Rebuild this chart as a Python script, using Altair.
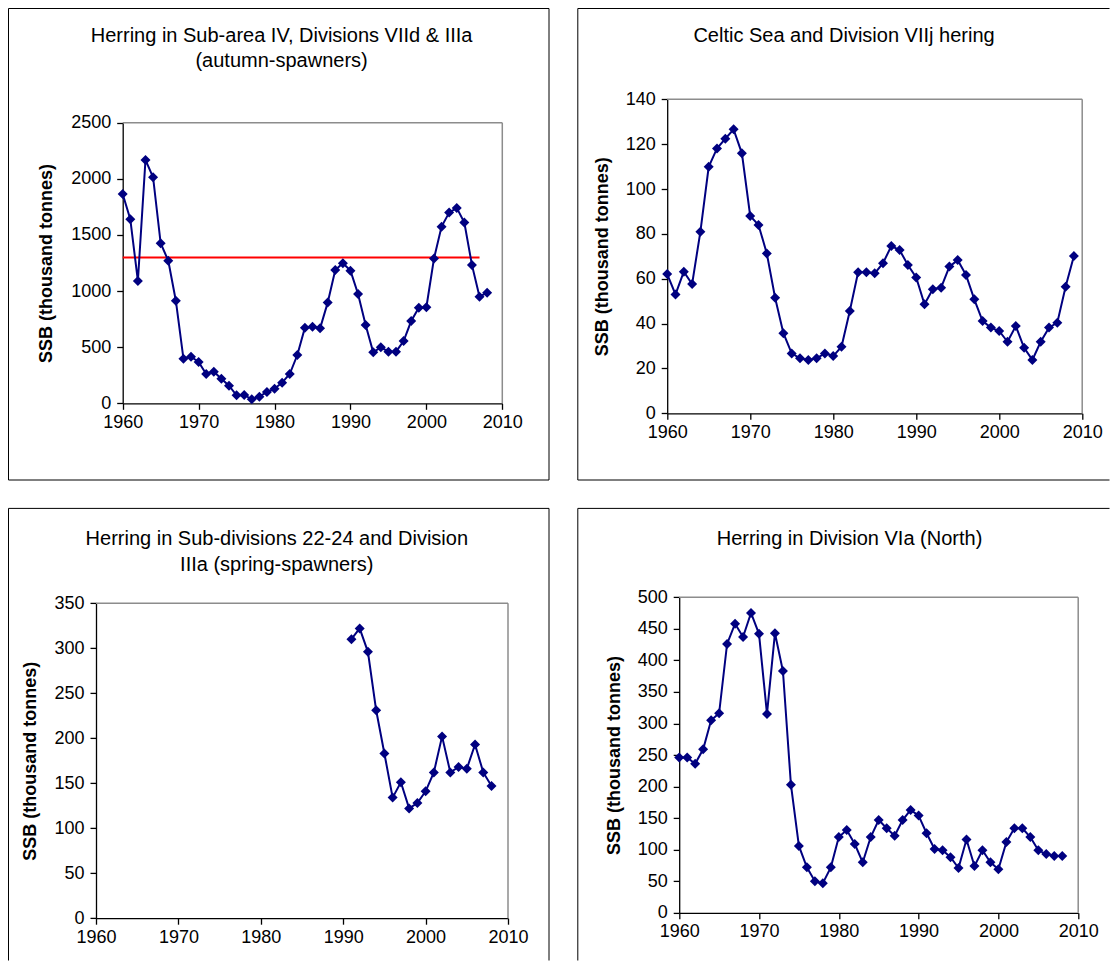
import altair as alt
import pandas as pd

# ---------------- data ----------------
years_ns = list(range(1960, 2009))
ssb_ns = [1865, 1640, 1090, 2168, 2014, 1426, 1271, 914, 398, 415,
          368, 261, 282, 219, 157, 71, 74, 36, 59, 101,
          130, 184, 261, 430, 674, 683, 668, 897, 1188, 1248,
          1182, 974, 698, 454, 499, 460, 460, 555, 733, 852,
          856, 1289, 1574, 1699, 1741, 1610, 1233, 950, 986]
bpa_years = [1960, 2007]
bpa_values = [1300, 1300]

years_cs = list(range(1960, 2010))
ssb_cs = [62.1, 53.0, 63.1, 57.6, 81.0, 109.9, 118.1, 122.4, 126.6, 115.9,
          88.0, 84.0, 71.3, 51.5, 35.7, 26.7, 24.5, 23.8, 24.5, 26.7,
          25.5, 29.7, 45.6, 62.9, 62.9, 62.4, 66.9, 74.6, 72.8, 66.1,
          60.6, 48.6, 55.3, 56.0, 65.4, 68.3, 61.7, 50.8, 41.1, 38.2,
          36.7, 31.9, 38.9, 29.2, 23.8, 31.9, 38.2, 40.4, 56.4, 70.1]

years_ws = list(range(1991, 2009))
ssb_ws = [310, 322, 296, 231, 183, 134, 151, 122, 128, 141,
          162, 202, 162, 168, 166, 193, 162, 147]

years_via = list(range(1960, 2009))
ssb_via = [246, 246, 236, 259, 305, 316, 426, 458, 437, 475,
           442, 315, 443, 383, 203, 106, 72, 50, 47, 72,
           120, 131, 109, 80, 120, 147, 134, 122, 147, 163,
           154, 126, 101, 99, 88, 71, 116, 74, 99, 80,
           69, 112, 134, 134, 120, 99, 93, 90, 90]

x_ticks = [1960, 1970, 1980, 1990, 2000, 2010]
y_title = "SSB (thousand tonnes)"

NAVY = "#000080"
FONT = "Liberation Sans"
ONE = pd.DataFrame({"k": [0]})


def rule(x1, y1, x2, y2):
    return alt.Chart(ONE).mark_rule(color="#000000", strokeWidth=1).encode(
        x=alt.value(x1), y=alt.value(y1), x2=alt.value(x2), y2=alt.value(y2))


def text(s, x, y):
    return alt.Chart(ONE).mark_text(
        text=s, font=FONT, fontSize=20, color="#000000", align="center", baseline="middle"
    ).encode(x=alt.value(x), y=alt.value(y))


def panel(years, vals, ymax, ystep, w, h, xr, yr, frame_rules, titles, tpad, ref=None):
    # xr: (left, right) pixel range of plot area inside the panel; yr: (top, bottom)
    x = alt.X("Year:Q",
              scale=alt.Scale(domain=[1960, 2010], nice=False, zero=False, range=[xr[0], xr[1]]),
              axis=alt.Axis(values=x_ticks, format="d", title=None, labelFlush=False,
                            labelOverlap=False, labelPadding=4, offset=-(h - yr[1])))
    y = alt.Y("SSB:Q",
              scale=alt.Scale(domain=[0, ymax], nice=False, zero=True, range=[yr[1], yr[0]]),
              axis=alt.Axis(values=list(range(0, ymax + 1, ystep)), format="d", title=y_title,
                            titlePadding=tpad, labelPadding=6, offset=-xr[0]))
    layers = list(frame_rules) + list(titles)
    top_df = pd.DataFrame({"Year": [1960, 2010], "SSB": [ymax, ymax]})
    right_df = pd.DataFrame({"Year": [2010, 2010], "SSB": [0, ymax]})
    layers.append(alt.Chart(top_df).mark_line(color="#8c8c8c", strokeWidth=1.5).encode(x=x, y=y))
    layers.append(alt.Chart(right_df).mark_line(color="#8c8c8c", strokeWidth=1.5).encode(x=x, y=y))
    if ref is not None:
        rdf = pd.DataFrame({"Year": ref[0], "SSB": ref[1]})
        layers.append(alt.Chart(rdf).mark_line(color="#FF0000", strokeWidth=2).encode(x=x, y=y))
    df = pd.DataFrame({"Year": years, "SSB": vals})
    base = alt.Chart(df).encode(x=x, y=y)
    layers.append(base.mark_line(color=NAVY, strokeWidth=2))
    layers.append(base.mark_point(shape="diamond", filled=True, size=100, color=NAVY, opacity=1))
    return alt.layer(*layers).properties(width=w, height=h)


# page coordinates of panel boxes: P1/P3 x 8..549.5, P2/P4 x 576.8..1109
# top row y 8..480.5, bottom row y 507.4..960
W_L, W_R = 541.5, 532.2
H_T, H_B = 472.5, 452.6

p1 = panel(years_ns, ssb_ns, 2500, 500, W_L, H_T, (114.7, 494.3), (114.7, 395.3),
           [rule(0.5, 0.5, W_L - 0.5, 0.5), rule(0.5, 0.5, 0.5, H_T - 0.5),
            rule(W_L - 0.5, 0.5, W_L - 0.5, H_T - 0.5), rule(0.5, H_T - 0.5, W_L - 0.5, H_T - 0.5)],
           [text("Herring in Sub-area IV, Divisions VIId & IIIa", 273.6, 27.7),
            text("(autumn-spawners)", 273.6, 53.4)],
           15, ref=(bpa_years, bpa_values))

p2 = panel(years_cs, ssb_cs, 140, 20, W_R, H_T, (89.9, 504.9), (91.3, 405.3),
           [rule(0.5, 0.5, W_R, 0.5), rule(0.5, 0.5, 0.5, H_T - 0.5),
            rule(0.5, H_T - 0.5, W_R, H_T - 0.5)],
           [text("Celtic Sea and Division VIIj hering", 266.7, 28.3)],
           14)

p3 = panel(years_ws, ssb_ws, 350, 50, W_L, H_B, (88.0, 500.0), (95.3, 410.3),
           [rule(0.5, 0.5, W_L - 0.5, 0.5), rule(0.5, 0.5, 0.5, H_B),
            rule(W_L - 0.5, 0.5, W_L - 0.5, H_B)],
           [text("Herring in Sub-divisions 22-24 and Division", 268.8, 31.5),
            text("IIIa (spring-spawners)", 268.8, 57.2)],
           14)

p4 = panel(years_via, ssb_via, 500, 50, W_R, H_B, (101.9, 500.9), (89.3, 404.9),
           [rule(0.5, 0.5, W_R, 0.5), rule(0.5, 0.5, 0.5, H_B)],
           [text("Herring in Division VIa (North)", 272.2, 31.3)],
           14)

top = alt.hconcat(p1, p2, spacing=27.3)
bottom = alt.hconcat(p3, p4, spacing=27.3)

chart = alt.vconcat(top, bottom, spacing=26.9).properties(
    padding=0, background="#ffffff"
).configure_view(
    stroke="transparent", strokeWidth=0, clip=False
).configure_axis(
    grid=False, domainColor="#000000", domainWidth=1.3, tickColor="#000000", tickWidth=1.3,
    tickSize=6, labelFont=FONT, labelFontSize=18, labelColor="#000000",
    titleFont=FONT, titleFontSize=18, titleFontWeight="bold", titleColor="#000000"
)

chart.save("out.html", embed_options={"renderer": "svg", "actions": False})
